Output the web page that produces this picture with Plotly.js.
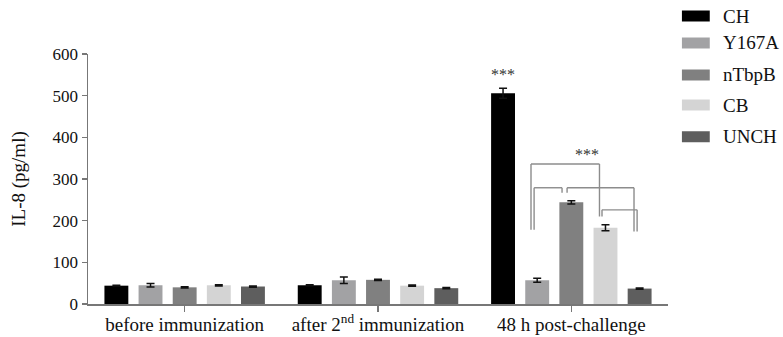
<!DOCTYPE html>
<html>
<head>
<meta charset="utf-8">
<script src="https://cdn.plot.ly/plotly-3.0.1.min.js"></script>
<style>html,body{margin:0;padding:0;background:#fff;}#chart{width:783px;height:337px;}</style>
</head>
<body>
<div id="chart"></div>
<script>
// ---- data ----
const categories = ["before immunization", "after 2<sup>nd</sup> immunization", "48 h post-challenge"];
const seriesNames = ["CH", "Y167A", "nTbpB", "CB", "UNCH"];
const CH    = [44, 45, 506];
const Y167A = [45, 57, 57];
const nTbpB = [40, 58, 244];
const CB    = [45, 44, 183];
const UNCH  = [42, 38, 37];
const errCH    = [1, 1, 12];
const errY167A = [4, 8, 5];
const errNTbpB = [1.5, 1.5, 4];
const errCB    = [1.5, 1.5, 7];
const errUNCH  = [1.5, 1.5, 1.5];
const yTicks = [0, 100, 200, 300, 400, 500, 600];
const sigLabel = "***";

// ---- styles ----
const values = [CH, Y167A, nTbpB, CB, UNCH];
const errors = [errCH, errY167A, errNTbpB, errCB, errUNCH];
const colors = ["#000000", "#a2a2a4", "#808080", "#d4d4d4", "#5e5e5e"];
const serif = '"Liberation Serif", "Times New Roman", serif';
const xIdx = categories.map((c, i) => i);

const bargap = 0.117;
const slot = (1 - bargap) / seriesNames.length;
const center = (group, s) => group + (s - (seriesNames.length - 1) / 2) * slot;

const traces = seriesNames.map((name, s) => ({
  type: "bar",
  name: name,
  x: xIdx,
  y: values[s],
  marker: {color: colors[s], line: {width: 0}},
  error_y: {type: "data", array: errors[s], visible: true, color: "#111", thickness: 1.5, width: 4},
  showlegend: false,
  hoverinfo: "y"
}));

// significance brackets (group 2)
const bc = "#8c8c8c";
const seg = (x0, y0, x1, y1) => ({type: "line", xref: "x", yref: "y", x0, y0, x1, y1, line: {color: bc, width: 1.4}});
const g = 2;
const xY = center(g, 1), xN = center(g, 2), xC = center(g, 3), xU = center(g, 4);
const shapes = [
  // Y167A vs CB (outer)
  seg(xY - 0.032, 178, xY - 0.032, 336), seg(xY - 0.032, 336, xC - 0.031, 336), seg(xC - 0.031, 336, xC - 0.031, 210),
  // Y167A vs nTbpB
  seg(xY - 0.016, 178, xY - 0.016, 279), seg(xY - 0.016, 279, xN - 0.048, 279), seg(xN - 0.048, 279, xN - 0.048, 267),
  // nTbpB vs UNCH
  seg(xN - 0.022, 267, xN - 0.022, 279), seg(xN - 0.022, 279, xU - 0.029, 279), seg(xU - 0.029, 279, xU - 0.029, 174),
  // CB vs UNCH
  seg(xC - 0.018, 210, xC - 0.018, 226), seg(xC - 0.018, 226, xU - 0.013, 226), seg(xU - 0.013, 226, xU - 0.013, 174)
];

// custom legend
const legY = [1.152, 1.044, 0.916, 0.796, 0.669];
const annotations = [];
seriesNames.forEach((name, s) => {
  shapes.push({type: "rect", xref: "paper", yref: "paper", x0: 1.024, x1: 1.072,
    y0: legY[s] - 0.022, y1: legY[s] + 0.022, fillcolor: colors[s], line: {width: 0}});
  annotations.push({xref: "paper", yref: "paper", x: 1.092, y: legY[s], text: name, showarrow: false,
    xanchor: "left", yanchor: "middle", font: {family: serif, size: 19, color: "#111"}});
});
annotations.push({xref: "x", yref: "y", x: center(2, 0), y: 550, text: sigLabel, showarrow: false,
  font: {family: serif, size: 16, color: "#333"}});
annotations.push({xref: "x", yref: "y", x: 2.083, y: 358, text: sigLabel, showarrow: false,
  font: {family: serif, size: 16, color: "#333"}});

const layout = {
  width: 783, height: 337,
  margin: {l: 88, r: 115, t: 54, b: 33, pad: 0},
  paper_bgcolor: "#fff", plot_bgcolor: "#fff",
  barmode: "group", bargap: bargap, bargroupgap: 0.3,
  showlegend: false,
  font: {family: serif, color: "#111"},
  xaxis: {
    type: "linear", range: [-0.5, 2.5], tickvals: xIdx, ticktext: categories,
    showgrid: false, zeroline: false, showline: true, linecolor: "#777", linewidth: 1.5,
    ticks: "outside", ticklen: 6, tickwidth: 1.5, tickcolor: "#777", ticklabelstandoff: -3,
    tickfont: {family: serif, size: 19, color: "#111"}, fixedrange: true
  },
  yaxis: {
    range: [0, 600], tickvals: yTicks,
    showgrid: false, zeroline: false, showline: true, linecolor: "#777", linewidth: 1.5,
    ticks: "outside", ticklen: 5, tickwidth: 1.5, tickcolor: "#777",
    tickfont: {family: serif, size: 17, color: "#111"},
    title: {text: "IL-8 (pg/ml)", font: {family: serif, size: 19, color: "#111"}, standoff: 22},
    fixedrange: true
  },
  shapes: shapes,
  annotations: annotations
};

Plotly.newPlot("chart", traces, layout, {displayModeBar: false, staticPlot: true});
</script>
</body>
</html>
